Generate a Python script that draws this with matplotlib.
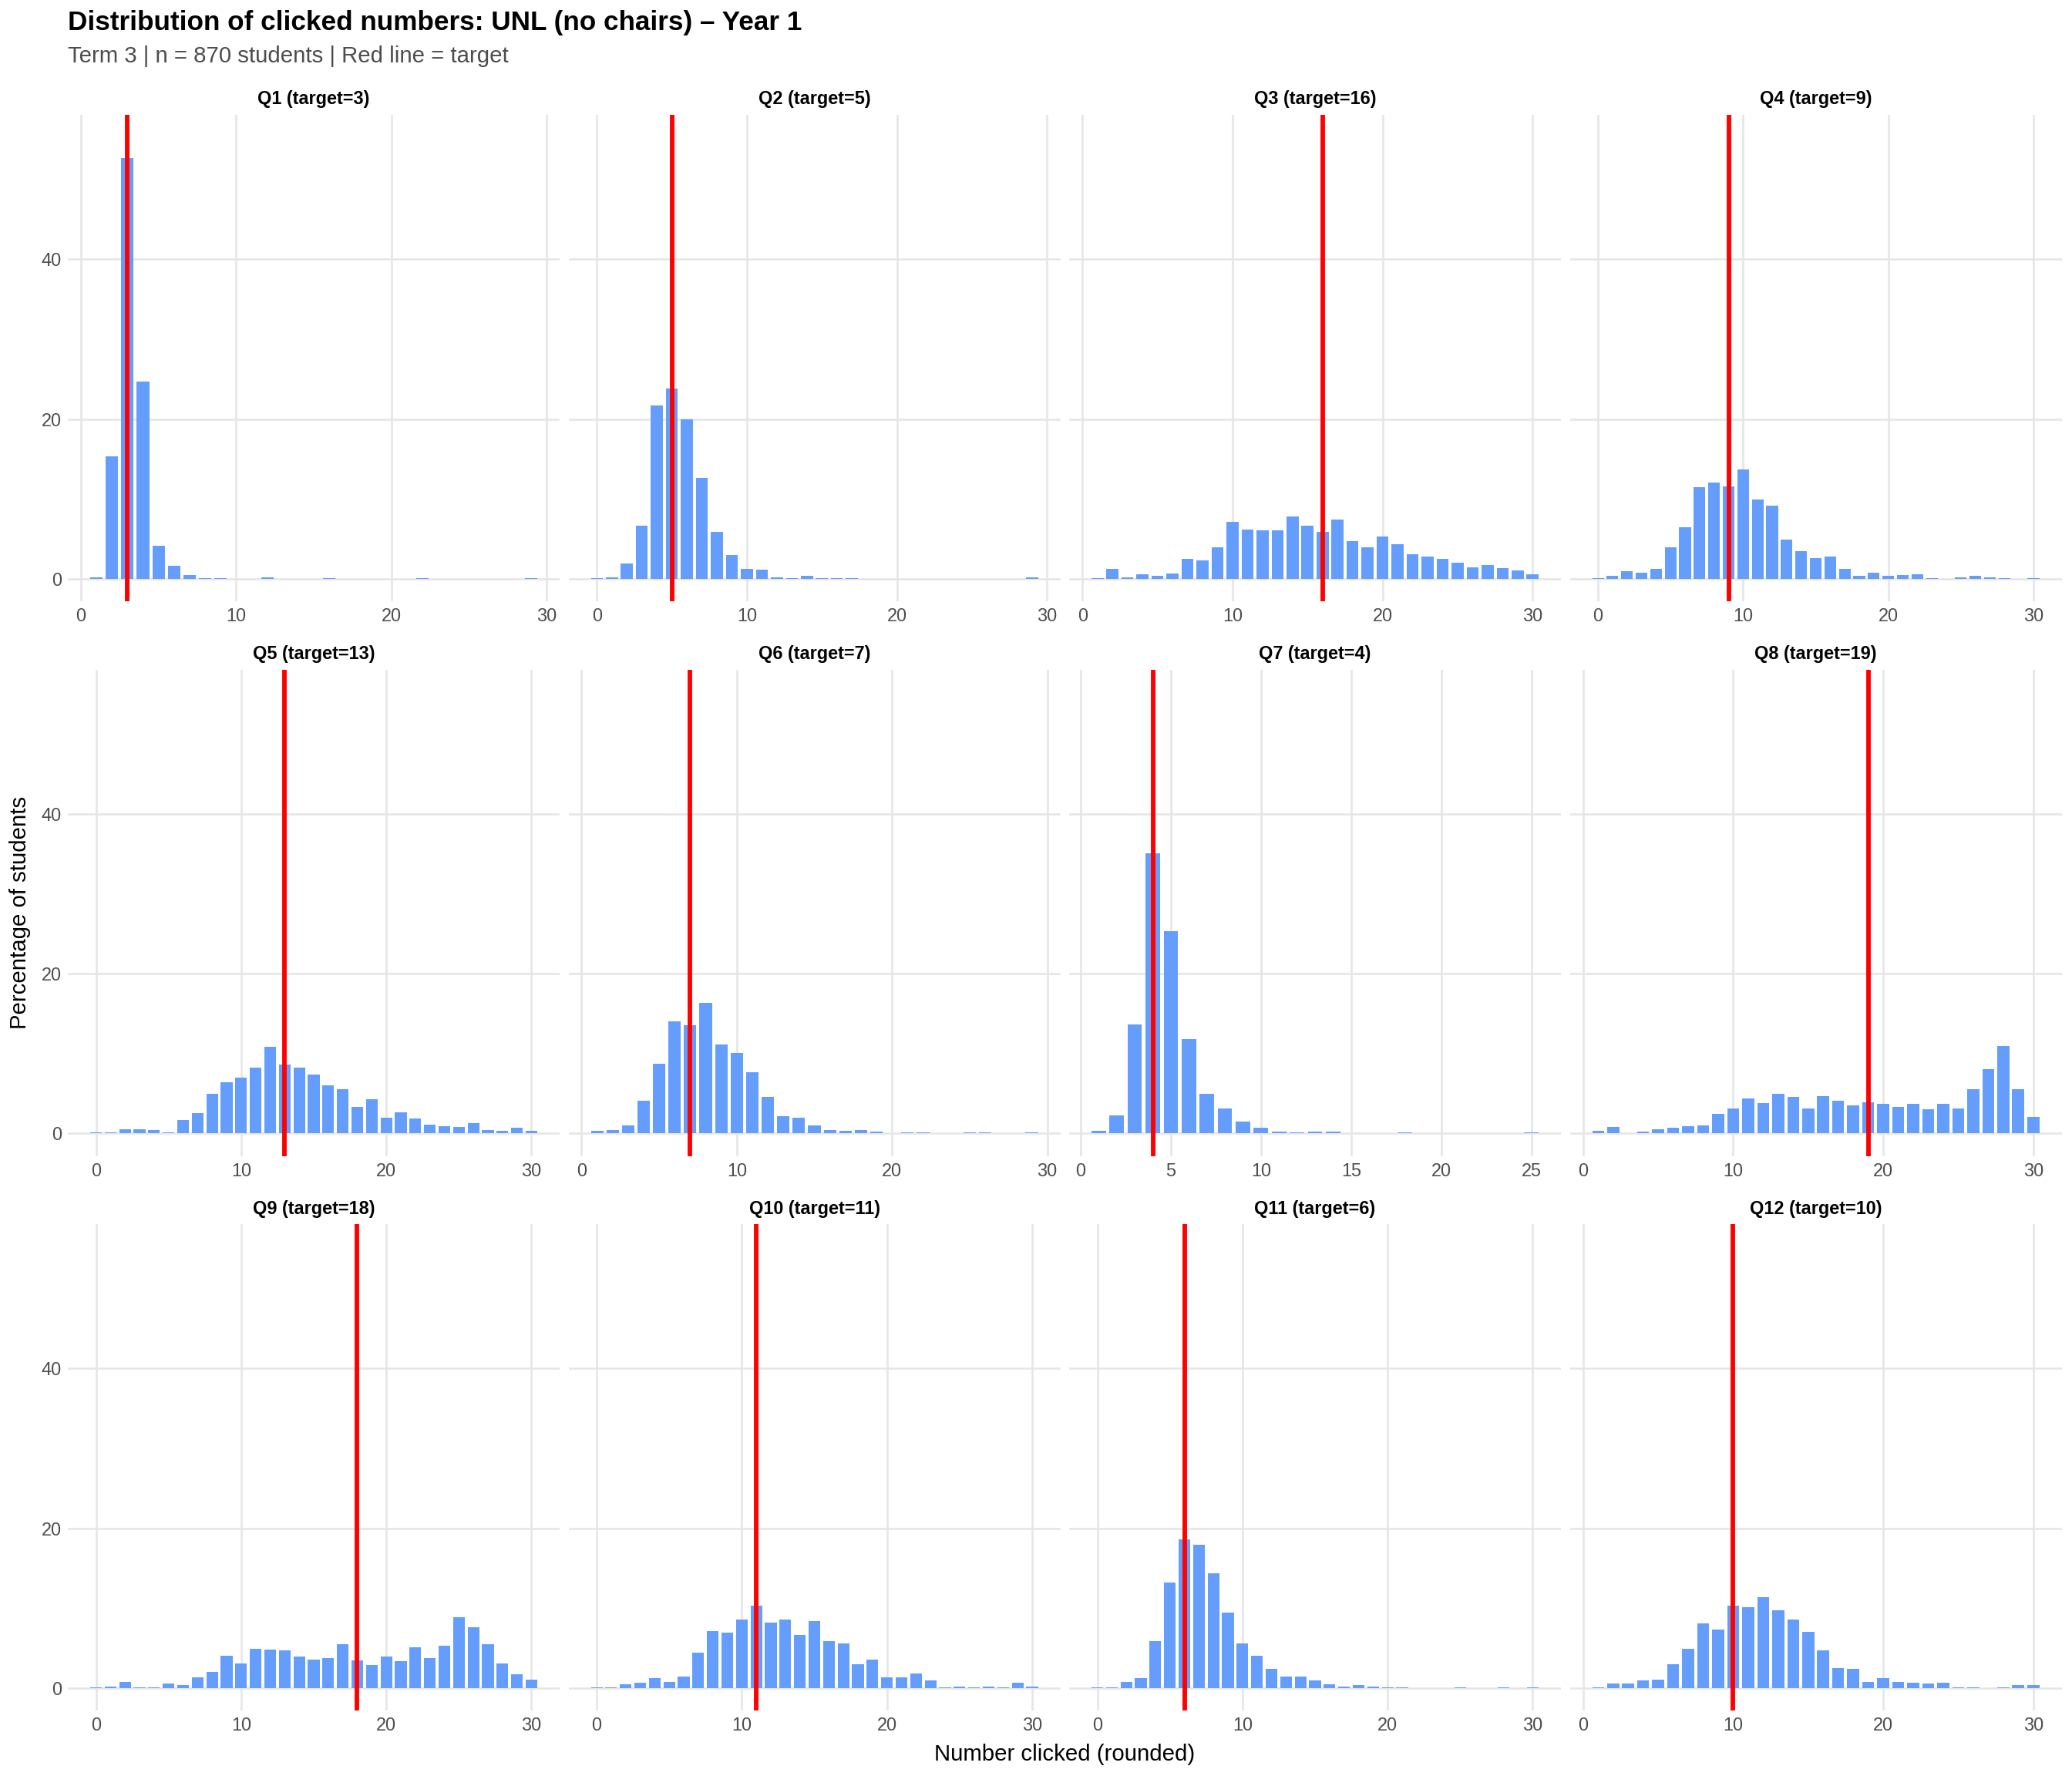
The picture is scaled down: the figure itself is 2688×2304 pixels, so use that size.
import numpy as np
import matplotlib
matplotlib.use("Agg")
import matplotlib.pyplot as plt

plt.rcParams['font.family'] = ['Liberation Sans', 'DejaVu Sans']

# percentage of students per clicked number; each list starts at its *_start value
questions = ['Q1', 'Q2', 'Q3', 'Q4', 'Q5', 'Q6', 'Q7', 'Q8', 'Q9', 'Q10', 'Q11', 'Q12']
targets = [3, 5, 16, 9, 13, 7, 4, 19, 18, 11, 6, 10]

q1_start = 1
q1_pct = [0.23, 15.29, 52.64, 24.71, 4.14, 1.61, 0.46, 0.11, 0.11, 0, 0, 0.23, 0, 0, 0,
          0.11, 0, 0, 0, 0, 0, 0.11, 0, 0, 0, 0, 0, 0, 0.11]
q2_start = 0
q2_pct = [0.11, 0.23, 1.95, 6.67, 21.72, 23.79, 20.0, 12.64, 5.86, 2.99, 1.26, 1.15, 0.23,
          0.11, 0.34, 0.11, 0.11, 0.11, 0, 0, 0, 0, 0, 0, 0, 0, 0, 0, 0, 0.23]
q3_start = 1
q3_pct = [0.11, 1.26, 0.23, 0.57, 0.34, 0.69, 2.53, 2.30, 3.91, 7.13, 6.21, 6.09, 6.09,
          7.82, 6.67, 5.86, 7.47, 4.71, 3.91, 5.29, 4.37, 3.10, 2.76, 2.53, 2.0, 1.49,
          1.72, 1.38, 1.03, 0.57]
q4_start = 0
q4_pct = [0.11, 0.34, 0.92, 0.80, 1.26, 3.91, 6.44, 11.49, 12.07, 11.61, 13.68, 9.89, 9.20,
          4.94, 3.45, 2.64, 2.76, 1.26, 0.34, 0.80, 0.34, 0.46, 0.57, 0.11, 0, 0.23, 0.34,
          0.23, 0.11, 0, 0.11]
q5_start = 0
q5_pct = [0.11, 0.11, 0.57, 0.57, 0.46, 0.11, 1.72, 2.53, 4.94, 6.44, 7.01, 8.28, 10.80,
          8.62, 8.28, 7.36, 5.98, 5.52, 3.33, 4.25, 2.0, 2.64, 1.84, 1.15, 0.92, 0.80,
          1.26, 0.46, 0.34, 0.69, 0.34]
q6_start = 1
q6_pct = [0.34, 0.46, 1.03, 4.14, 8.74, 14.02, 13.56, 16.32, 11.15, 10.11, 7.70, 4.60,
          2.18, 2.0, 1.03, 0.46, 0.34, 0.46, 0.23, 0, 0.11, 0.11, 0, 0, 0.11, 0.11, 0, 0,
          0.11]
q7_start = 1
q7_pct = [0.34, 2.30, 13.68, 35.06, 25.29, 11.84, 4.94, 3.10, 1.49, 0.69, 0.23, 0.11,
          0.23, 0.23, 0, 0, 0, 0.11, 0, 0, 0, 0, 0, 0, 0.11]
q8_start = 1
q8_pct = [0.34, 0.80, 0, 0.23, 0.57, 0.69, 0.92, 1.03, 2.41, 3.10, 4.37, 3.79, 4.94, 4.60,
          3.10, 4.71, 4.14, 3.56, 3.91, 3.68, 3.33, 3.68, 2.99, 3.68, 3.10, 5.52, 8.05,
          10.92, 5.52, 2.07]
q9_start = 0
q9_pct = [0.11, 0.23, 0.80, 0.11, 0.11, 0.57, 0.34, 1.38, 2.0, 4.02, 3.10, 4.94, 4.83,
          4.71, 3.91, 3.56, 3.79, 5.52, 3.45, 2.87, 3.91, 3.33, 5.06, 3.79, 5.29, 8.85,
          7.59, 5.52, 3.10, 1.72, 1.03]
q10_start = 0
q10_pct = [0.11, 0.11, 0.46, 0.69, 1.26, 0.80, 1.49, 4.48, 7.13, 6.90, 8.62, 10.34, 8.16,
           8.62, 6.67, 8.39, 5.86, 5.63, 2.99, 3.56, 1.38, 1.38, 1.84, 0.92, 0.11, 0.23,
           0.11, 0.23, 0.11, 0.69, 0.23]
q11_start = 0
q11_pct = [0.11, 0.11, 0.80, 1.26, 5.86, 13.22, 18.62, 17.93, 14.37, 9.43, 5.63, 4.02,
           2.41, 1.49, 1.49, 0.92, 0.46, 0.23, 0.34, 0.23, 0.11, 0.11, 0, 0, 0, 0.11, 0,
           0, 0.11, 0, 0.11]
q12_start = 1
q12_pct = [0.11, 0.57, 0.57, 0.92, 1.03, 2.99, 4.94, 8.05, 7.36, 10.34, 10.11, 11.38,
           9.77, 8.62, 7.01, 4.71, 2.53, 2.41, 0.80, 1.26, 0.80, 0.69, 0.57, 0.69, 0.11,
           0.11, 0, 0.11, 0.34, 0.34]

starts = [q1_start, q2_start, q3_start, q4_start, q5_start, q6_start,
          q7_start, q8_start, q9_start, q10_start, q11_start, q12_start]
pcts = [q1_pct, q2_pct, q3_pct, q4_pct, q5_pct, q6_pct,
        q7_pct, q8_pct, q9_pct, q10_pct, q11_pct, q12_pct]

W, H = 2688, 2304
DPI = 192
fig = plt.figure(figsize=(W / DPI, H / DPI), dpi=DPI)
fig.patch.set_facecolor('white')

bar_color = '#659DFC'
grid_color = '#E6E6E6'
text_gray = '#4D4D4D'

left0, pw, xstep = 88, 638, 649.5
top0, ph, ystep = 149, 631, 719.5
ylo, yhi = -2.8, 58.05

for i, q in enumerate(questions):
    r, c = divmod(i, 4)
    x0 = left0 + c * xstep
    y0 = top0 + r * ystep
    ax = fig.add_axes([x0 / W, 1 - (y0 + ph) / H, pw / W, ph / H])

    vals = np.array(pcts[i], dtype=float)
    xs = np.arange(starts[i], starts[i] + len(vals))
    keep = vals > 0
    xs, vals = xs[keep], vals[keep]

    ax.bar(xs, vals, width=0.8, color=bar_color, zorder=2)
    ax.axvline(targets[i], color='red', lw=2.2, zorder=3)

    lo, hi = xs.min() - 0.4, xs.max() + 0.4
    span = hi - lo
    xl = (lo - 0.05 * span, hi + 0.05 * span)
    ax.set_xlim(*xl)
    ax.set_ylim(ylo, yhi)

    step = 5 if xs.max() <= 25 else 10
    ticks = np.arange(0, xl[1], step)
    ax.set_xticks(ticks[ticks >= xl[0]])
    ax.set_yticks([0, 20, 40])

    ax.grid(True, color=grid_color, lw=1.0, zorder=0)
    ax.set_axisbelow(True)
    for s in ax.spines.values():
        s.set_visible(False)
    ax.tick_params(length=0, labelsize=8.8, labelcolor=text_gray, pad=3)
    if c != 0:
        ax.set_yticklabels([])

    ax.text(0.5, 1 + 20 / ph, f'{q} (target={targets[i]})', transform=ax.transAxes,
            ha='center', va='center', fontsize=8.8, fontweight='bold')

fig.text(left0 / W, 1 - 30 / H, 'Distribution of clicked numbers: UNL (no chairs) \u2013 Year 1',
         ha='left', va='center', fontsize=13.2, fontweight='bold')
fig.text(left0 / W, 1 - 73 / H, 'Term 3 | n = 870 students | Red line = target',
         ha='left', va='center', fontsize=11, color=text_gray)

panel_right = left0 + 3 * xstep + pw
fig.text((left0 + panel_right) / 2 / W, 1 - 2276 / H, 'Number clicked (rounded)',
         ha='center', va='center', fontsize=11)
fig.text(26 / W, 1 - (top0 + 2 * ystep + ph + top0) / 2 / H, 'Percentage of students',
         ha='center', va='center', rotation=90, fontsize=11)

fig.savefig('out.png', dpi=DPI, facecolor='white')
